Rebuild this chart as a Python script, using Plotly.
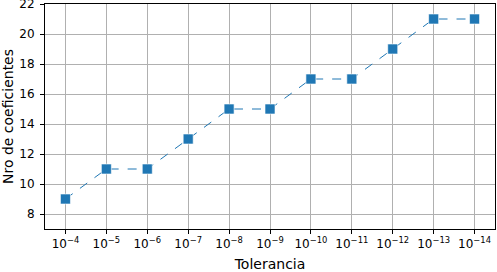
import plotly.graph_objects as go

exponents = [-4, -5, -6, -7, -8, -9, -10, -11, -12, -13, -14]
coeficientes = [9, 11, 11, 13, 15, 15, 17, 17, 19, 21, 21]
y_ticks = [8, 10, 12, 14, 16, 18, 20, 22]

tick_labels = ["10<sup>\u2212%d</sup>" % (-e) for e in exponents]
xs = list(range(len(exponents)))

fig = go.Figure()
fig.add_trace(go.Scatter(
    x=xs, y=coeficientes, mode="lines+markers",
    line=dict(color="#1f77b4", width=1, dash="dash"),
    marker=dict(symbol="square", size=10, color="#1f77b4",
                line=dict(color="rgba(255,255,255,0.6)", width=1)),
    cliponaxis=False,
))

axis_common = dict(
    showline=True, linecolor="black", linewidth=1, mirror=True,
    ticks="outside", ticklen=4, tickcolor="black", tickwidth=1,
    showgrid=True, gridcolor="#b0b0b0", gridwidth=1, zeroline=False,
    tickfont=dict(family="DejaVu Sans", size=12, color="black"),
    automargin=False, ticklabeloverflow="allow",
)

fig.update_layout(
    width=497, height=272,
    margin=dict(l=45, r=2, t=4, b=43, pad=0, autoexpand=False),
    paper_bgcolor="white", plot_bgcolor="white",
    showlegend=False,
    font=dict(family="DejaVu Sans", size=12, color="black"),
    xaxis=dict(range=[-0.5, 10.5], tickmode="array", tickvals=xs,
               ticktext=tick_labels,
               title=dict(text="Tolerancia", font=dict(size=14)),
               **axis_common),
    yaxis=dict(range=[7, 22], tickmode="array", tickvals=y_ticks,
               ticklabelstandoff=3,
               title=dict(text="Nro de coeficientes", font=dict(size=14)),
               **axis_common),
)

fig.write_html("out.html", config={"displayModeBar": False},
               post_script="document.body.style.margin='0';document.body.style.padding='0';document.body.style.overflow='hidden';")
